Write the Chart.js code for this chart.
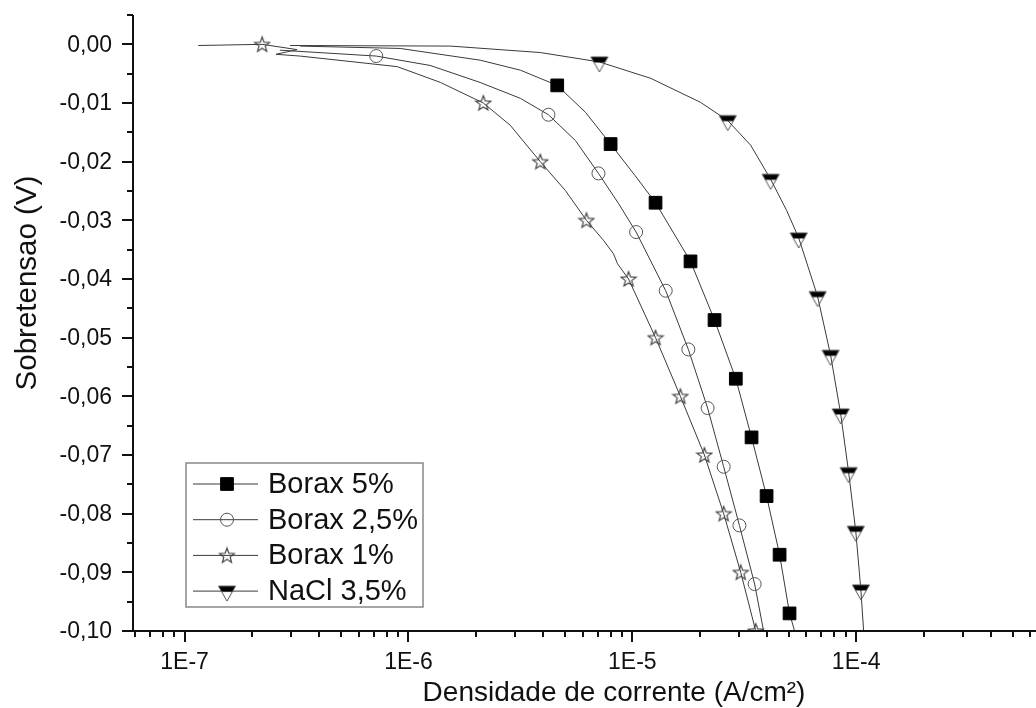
<!DOCTYPE html>
<html>
<head>
<meta charset="utf-8">
<script src="https://cdn.jsdelivr.net/npm/chart.js@4/dist/chart.umd.min.js"></script>
<style>
  html, body { margin: 0; padding: 0; background: #fff; }
  #wrap { width: 1036px; height: 708px; }
</style>
</head>
<body>
<div id="wrap"><canvas id="c" width="1036" height="708"></canvas></div>
<script>
// Polarization curves: current density (A/cm²) vs overpotential (V)

// Borax 5 %
const borax5J = [3.28e-7, 9.18e-7, 2.09e-6, 3.16e-6, 4.62e-6, 6.18e-6, 8.00e-6, 1.03e-5, 1.27e-5, 1.82e-5, 2.33e-5, 2.90e-5, 3.41e-5, 3.98e-5, 4.55e-5, 5.04e-5, 5.31e-5];
const borax5E = [-0.0003, -0.0007, -0.0027, -0.0044, -0.007, -0.0116, -0.017, -0.0224, -0.027, -0.037, -0.047, -0.057, -0.067, -0.077, -0.087, -0.097, -0.100];
const borax5MarkJ = [4.62e-6, 8.00e-6, 1.27e-5, 1.82e-5, 2.33e-5, 2.90e-5, 3.41e-5, 3.98e-5, 4.55e-5, 5.04e-5];
const borax5MarkE = [-0.007, -0.017, -0.027, -0.037, -0.047, -0.057, -0.067, -0.077, -0.087, -0.097];

// Borax 2,5 %
const borax25J = [2.67e-7, 7.18e-7, 1.25e-6, 2.09e-6, 3.16e-6, 4.22e-6, 5.57e-6, 7.06e-6, 8.67e-6, 1.04e-5, 1.41e-5, 1.78e-5, 2.17e-5, 2.56e-5, 3.01e-5, 3.52e-5, 3.86e-5];
const borax25E = [-0.0010, -0.002, -0.0036, -0.0065, -0.0092, -0.012, -0.0164, -0.022, -0.0271, -0.032, -0.042, -0.052, -0.062, -0.072, -0.082, -0.092, -0.100];
const borax25MarkJ = [7.18e-7, 4.22e-6, 7.06e-6, 1.04e-5, 1.41e-5, 1.78e-5, 2.17e-5, 2.56e-5, 3.01e-5, 3.52e-5];
const borax25MarkE = [-0.002, -0.012, -0.022, -0.032, -0.042, -0.052, -0.062, -0.072, -0.082, -0.092];

// Borax 1 %
const borax1J = [1.15e-7, 2.22e-7, 3.18e-7, 2.56e-7, 3.28e-7, 8.91e-7, 1.39e-6, 2.16e-6, 2.85e-6, 3.88e-6, 5.02e-6, 6.24e-6, 7.43e-6, 8.24e-6, 8.59e-6, 9.62e-6, 1.27e-5, 1.64e-5, 2.10e-5, 2.56e-5, 3.05e-5, 3.56e-5];
const borax1E = [-0.0002, 0.000, -0.0009, -0.0017, -0.0020, -0.0038, -0.0065, -0.010, -0.0138, -0.020, -0.0249, -0.030, -0.0334, -0.0357, -0.0374, -0.040, -0.050, -0.060, -0.070, -0.080, -0.090, -0.100];
const borax1MarkJ = [2.22e-7, 2.16e-6, 3.88e-6, 6.24e-6, 9.62e-6, 1.27e-5, 1.64e-5, 2.10e-5, 2.56e-5, 3.05e-5, 3.56e-5];
const borax1MarkE = [0.000, -0.010, -0.020, -0.030, -0.040, -0.050, -0.060, -0.070, -0.080, -0.090, -0.100];

// NaCl 3,5 %
const naclJ = [2.96e-7, 1.54e-6, 3.88e-6, 7.13e-6, 1.21e-5, 2.02e-5, 2.67e-5, 3.38e-5, 4.15e-5, 4.89e-5, 5.54e-5, 6.73e-5, 7.69e-5, 8.53e-5, 9.26e-5, 9.96e-5, 1.05e-4, 1.08e-4];
const naclE = [-0.0002, -0.0003, -0.0014, -0.003, -0.0058, -0.0099, -0.013, -0.0172, -0.023, -0.0283, -0.033, -0.043, -0.053, -0.063, -0.073, -0.083, -0.093, -0.100];
const naclMarkJ = [7.13e-6, 2.67e-5, 4.15e-5, 5.54e-5, 6.73e-5, 7.69e-5, 8.53e-5, 9.26e-5, 9.96e-5, 1.05e-4];
const naclMarkE = [-0.003, -0.013, -0.023, -0.033, -0.043, -0.053, -0.063, -0.073, -0.083, -0.093];

const seriesNames = ['Borax 5%', 'Borax 2,5%', 'Borax 1%', 'NaCl 3,5%'];

// Axis ticks
const xTickValues = [1e-7, 1e-6, 1e-5, 1e-4];
const xTickLabels = ['1E-7', '1E-6', '1E-5', '1E-4'];
const yTickValues = [0, -0.01, -0.02, -0.03, -0.04, -0.05, -0.06, -0.07, -0.08, -0.09, -0.1];
const yTickLabels = ['0,00', '-0,01', '-0,02', '-0,03', '-0,04', '-0,05', '-0,06', '-0,07', '-0,08', '-0,09', '-0,10'];
const xTitle = 'Densidade de corrente (A/cm²)';
const yTitle = 'Sobretensao (V)';

const FONT = '"Liberation Sans", Arial, sans-serif';
const LINE = '#3a3a3a';
const MARK = '#555';
const TEXT = '#111';

function pts(xs, ys) { return xs.map((x, i) => ({ x: x, y: ys[i] })); }

// Custom marker glyphs
function makeStar() {
  const c = document.createElement('canvas');
  c.width = 18; c.height = 18;
  const g = c.getContext('2d');
  g.strokeStyle = '#444'; g.lineWidth = 1.2;
  g.beginPath();
  for (let i = 0; i < 10; i++) {
    const r = i % 2 ? 3.3 : 7.8;
    const a = -Math.PI / 2 + i * Math.PI / 5;
    g.lineTo(9 + r * Math.cos(a), 9.6 + r * Math.sin(a));
  }
  g.closePath(); g.stroke();
  return c;
}
function makeTri() {
  const c = document.createElement('canvas');
  c.width = 20; c.height = 26;
  const g = c.getContext('2d');
  g.beginPath();
  g.moveTo(1.5, 8); g.lineTo(18.5, 8); g.lineTo(10, 23); g.closePath();
  g.save(); g.clip();
  g.fillStyle = '#000'; g.fillRect(0, 0, 20, 13.5);
  g.restore();
  g.strokeStyle = MARK; g.lineWidth = 1; g.stroke();
  return c;
}
const starImg = makeStar();
const triImg = makeTri();

const markerStyles = [
  { pointStyle: 'rect', pointRadius: 9, backgroundColor: '#000', borderColor: '#000', borderWidth: 1 },
  { pointStyle: 'circle', pointRadius: 6.5, backgroundColor: 'rgba(0,0,0,0)', borderColor: MARK, borderWidth: 1 },
  { pointStyle: starImg, pointRadius: 8 },
  { pointStyle: triImg, pointRadius: 10 }
];

const curves = [pts(borax5J, borax5E), pts(borax25J, borax25E), pts(borax1J, borax1E), pts(naclJ, naclE)];
const marks = [pts(borax5MarkJ, borax5MarkE), pts(borax25MarkJ, borax25MarkE), pts(borax1MarkJ, borax1MarkE), pts(naclMarkJ, naclMarkE)];

const datasets = [];
curves.forEach((d, i) => {
  datasets.push({ label: seriesNames[i], data: d, borderColor: LINE, borderWidth: 1, pointRadius: 0, tension: 0, fill: false, order: 2 });
});
marks.forEach((d, i) => {
  datasets.push(Object.assign({ label: seriesNames[i] + ' pts', data: d, showLine: false, order: 1 }, markerStyles[i]));
});

// Axis lines, tick marks, tick labels, titles and legend box
const frame = {
  id: 'frame',
  afterDatasetsDraw(chart) {
    const ctx = chart.ctx;
    const a = chart.chartArea;
    const xs = chart.scales.x, ys = chart.scales.y;
    const xEnd = chart.width;
    ctx.save();
    ctx.strokeStyle = '#111';
    ctx.lineWidth = 2;
    ctx.lineCap = 'butt';
    // axes
    ctx.beginPath();
    ctx.moveTo(a.left, a.top); ctx.lineTo(a.left, a.bottom + 1);
    ctx.moveTo(a.left - 1, a.bottom); ctx.lineTo(xEnd, a.bottom);
    ctx.stroke();
    // y ticks (major every 0.01, minor halfway)
    ctx.beginPath();
    for (let k = 0; k <= 21; k++) {
      const v = 0.005 - k * 0.005;
      const p = Math.round(ys.getPixelForValue(v));
      const len = (k % 2 === 1) ? 11 : 6;
      ctx.moveTo(a.left, p); ctx.lineTo(a.left - len, p);
    }
    // x ticks (major at decades, minor 2..9)
    for (let e = -8; e <= -3; e++) {
      for (let m = 1; m <= 9; m++) {
        const v = m * Math.pow(10, e);
        const p = Math.round(xs.getPixelForValue(v));
        if (p < a.left || p > xEnd) continue;
        const len = m === 1 ? 11 : 6;
        ctx.moveTo(p, a.bottom); ctx.lineTo(p, a.bottom + len);
      }
    }
    ctx.stroke();

    // tick labels
    ctx.fillStyle = TEXT;
    ctx.font = '23px ' + FONT;
    ctx.textBaseline = 'middle';
    ctx.textAlign = 'right';
    yTickValues.forEach((v, i) => {
      ctx.fillText(yTickLabels[i], a.left - 21, ys.getPixelForValue(v) + 1);
    });
    ctx.textAlign = 'center';
    xTickValues.forEach((v, i) => {
      ctx.fillText(xTickLabels[i], xs.getPixelForValue(v), 663);
    });

    // axis titles
    ctx.font = '28px ' + FONT;
    ctx.fillText(xTitle, 614, 693);
    ctx.save();
    ctx.translate(28, 283);
    ctx.rotate(-Math.PI / 2);
    ctx.font = '29.5px ' + FONT;
    ctx.fillText(yTitle, 0, 0);
    ctx.restore();

    // legend
    const bx = 186, by = 463, bw = 237, bh = 144;
    ctx.fillStyle = '#fff';
    ctx.fillRect(bx, by, bw, bh);
    ctx.strokeStyle = '#888';
    ctx.lineWidth = 1.5;
    ctx.strokeRect(bx, by, bw, bh);
    ctx.font = '29px ' + FONT;
    ctx.textAlign = 'left';
    ctx.textBaseline = 'middle';
    seriesNames.forEach((name, i) => {
      const y = 484 + i * 35.7;
      ctx.strokeStyle = LINE;
      ctx.lineWidth = 1;
      ctx.beginPath(); ctx.moveTo(193, y); ctx.lineTo(258, y); ctx.stroke();
      const st = markerStyles[i];
      if (typeof st.pointStyle === 'string') {
        ctx.fillStyle = st.backgroundColor; ctx.strokeStyle = st.borderColor; ctx.lineWidth = st.borderWidth;
        ctx.beginPath();
        if (st.pointStyle === 'rect') {
          const s = st.pointRadius * Math.SQRT1_2;
          ctx.rect(227 - s, y - s, 2 * s, 2 * s);
        } else {
          ctx.arc(227, y, st.pointRadius, 0, Math.PI * 2);
        }
        ctx.fill(); ctx.stroke();
      } else {
        ctx.drawImage(st.pointStyle, 227 - st.pointStyle.width / 2, y - st.pointStyle.height / 2);
      }
      ctx.fillStyle = TEXT;
      ctx.fillText(name, 268, y + 1);
    });
    ctx.restore();
  }
};

new Chart(document.getElementById('c'), {
  type: 'line',
  data: { datasets: datasets },
  options: {
    responsive: false,
    animation: false,
    devicePixelRatio: 1,
    layout: { padding: { top: 15, left: 0, right: 0, bottom: 0 } },
    plugins: { legend: { display: false }, tooltip: { enabled: false }, title: { display: false } },
    scales: {
      x: {
        type: 'logarithmic',
        min: 5.88e-8,
        max: 5.68e-4,
        afterFit: s => { s.height = 77; },
        grid: { display: false, drawTicks: false },
        border: { display: false },
        ticks: { display: false }
      },
      y: {
        type: 'linear',
        min: -0.1,
        max: 0.005,
        afterFit: s => { s.width = 133; },
        grid: { display: false, drawTicks: false },
        border: { display: false },
        ticks: { display: false }
      }
    }
  },
  plugins: [frame]
});
</script>
</body>
</html>
